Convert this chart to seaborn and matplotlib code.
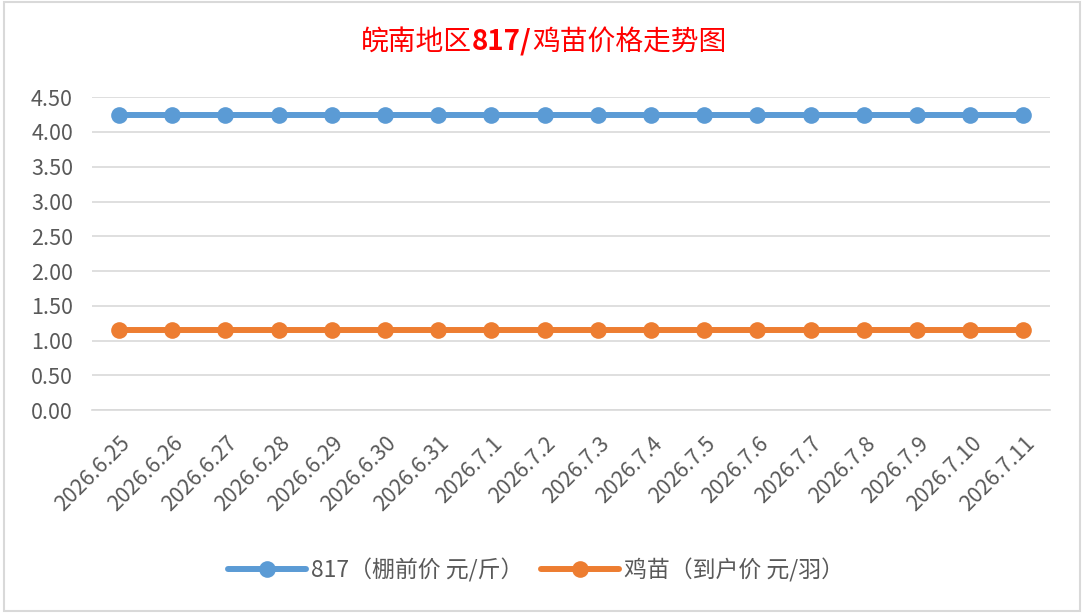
import numpy as np
import pandas as pd
import matplotlib
matplotlib.use("Agg")
import matplotlib.pyplot as plt
import matplotlib.transforms as mtransforms
import seaborn as sns
from matplotlib.patches import Rectangle

# 数据
dates = ["2026.6.25", "2026.6.26", "2026.6.27", "2026.6.28", "2026.6.29",
         "2026.6.30", "2026.6.31", "2026.7.1", "2026.7.2", "2026.7.3",
         "2026.7.4", "2026.7.5", "2026.7.6", "2026.7.7", "2026.7.8",
         "2026.7.9", "2026.7.10", "2026.7.11"]
price_817 = [4.25] * 18
price_chick = [1.15] * 18
series_names = ["817（棚前价 元/斤）", "鸡苗（到户价 元/羽）"]
yticks = [0.0, 0.5, 1.0, 1.5, 2.0, 2.5, 3.0, 3.5, 4.0, 4.5]
title_parts = [("皖南地区", "normal"), ("817/", "bold"), ("鸡苗价格走势图", "normal")]

df = pd.DataFrame({
    "date": dates * 2,
    "price": price_817 + price_chick,
    "series": [series_names[0]] * len(dates) + [series_names[1]] * len(dates),
})

sns.set_theme(style="white")
plt.rcParams['font.family'] = ['Noto Sans CJK SC', 'DejaVu Sans']

fig = plt.figure(figsize=(10.87, 6.15), dpi=100)
ax = fig.add_axes([0.085, 0.333, 0.881, 0.509])

sns.lineplot(data=df, x="date", y="price", hue="series", sort=False,
             palette=["#5b9bd5", "#ed7d31"], marker="o", markersize=12,
             markeredgewidth=0, linewidth=4.3, ax=ax, zorder=3)

ax.set_ylim(0, 4.5)
ax.set_yticks(yticks)
ax.set_yticklabels([f"{v:.2f}" for v in yticks])
ax.set_xlim(-0.5, len(dates) - 0.5)
ax.yaxis.grid(True, color="#d9d9d9", linewidth=1.2)
ax.xaxis.grid(False)
for s in ax.spines.values():
    s.set_visible(False)
ax.spines["bottom"].set_visible(True)
ax.spines["bottom"].set_color("#d9d9d9")
ax.spines["bottom"].set_linewidth(1.2)
ax.set_xlabel("")
ax.set_ylabel("")
ax.tick_params(axis="y", labelsize=15.5, colors="#595959", length=0, pad=14)
ax.tick_params(axis="x", labelsize=15.5, colors="#595959", length=0, pad=0)
shift = mtransforms.ScaledTranslation(0.08, -0.30, fig.dpi_scale_trans)
for lbl in ax.get_xticklabels():
    lbl.set_rotation(45)
    lbl.set_ha("right")
    lbl.set_va("center")
    lbl.set_rotation_mode("anchor")
    lbl.set_transform(lbl.get_transform() + shift)

leg = ax.legend(loc="center", bbox_to_anchor=(0.493, 0.073),
                bbox_transform=fig.transFigure, ncol=2,
                frameon=False, fontsize=16.5, handlelength=3.4, columnspacing=0.8,
                handletextpad=0.2, labelcolor="#595959")

# 标题（中文常规，817/ 加粗）
fig.canvas.draw()
renderer = fig.canvas.get_renderer()
widths = []
for txt, wt in title_parts:
    t = fig.text(0, 0, txt, fontsize=20, fontweight=wt)
    widths.append(t.get_window_extent(renderer).width / fig.bbox.width)
    t.remove()
x = 0.5 - sum(widths) / 2
for (txt, wt), w in zip(title_parts, widths):
    fig.text(x, 0.932, txt, color="red", fontsize=20, fontweight=wt,
             ha="left", va="center")
    x += w

fig.patches.append(Rectangle((0.004, 0.006), 0.99, 0.99, transform=fig.transFigure,
                             fill=False, edgecolor="#d9d9d9", linewidth=1.5))

fig.savefig("out.png", dpi=100)
